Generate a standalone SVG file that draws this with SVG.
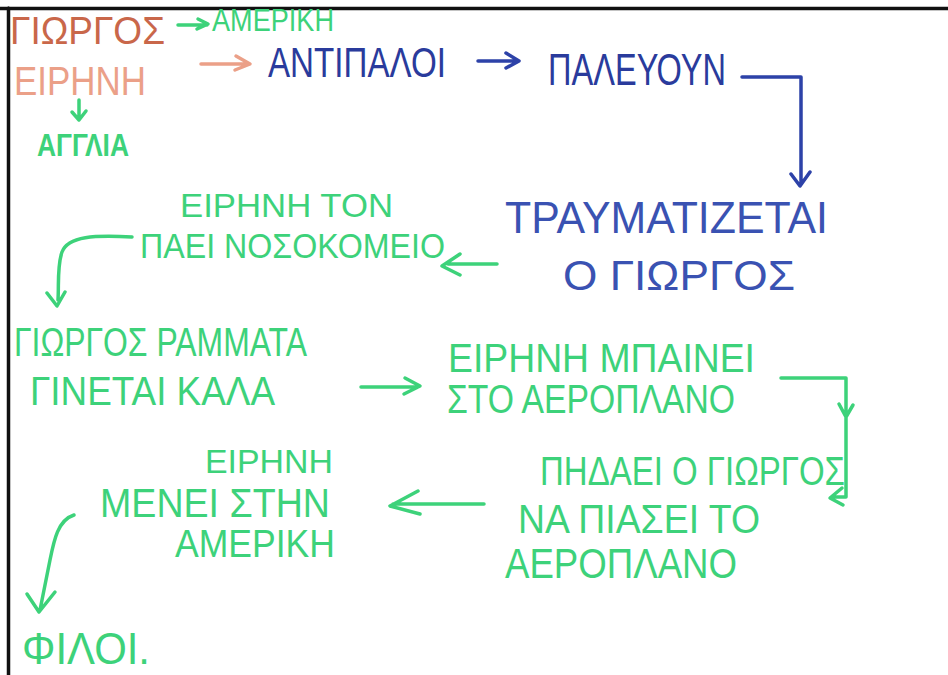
<svg xmlns="http://www.w3.org/2000/svg" width="948" height="675" viewBox="0 0 948 675">
<defs>
<style>
text{font-family:"Liberation Sans","DejaVu Sans",sans-serif;font-weight:normal;}
text.bold{font-weight:bold;}
.g{fill:#3dd27a;}
.b{fill:#2a3b9c;}
.b2{fill:#3a52b2;}
.o{fill:#c9674a;}
.s{fill:#eba088;}
.cg{stroke:#3dd27a;}
.cb{stroke:#2d42a8;}
.cs{stroke:#eba088;}
path{fill:none;stroke-width:3.5;stroke-linecap:round;stroke-linejoin:round;}
</style>
</defs>
<rect width="948" height="675" fill="#ffffff"/>
<path d="M0 8.5H948M8.5 8V675" stroke="#111" stroke-width="2.5" fill="none"/>

<g id="n-giorgos"><text class="o" x="10" y="44" font-size="38" textLength="155" lengthAdjust="spacingAndGlyphs">ΓΙΩΡΓΟΣ</text></g>
<g id="n-ameriki"><text class="g" x="212" y="31" font-size="32" textLength="122" lengthAdjust="spacingAndGlyphs">ΑΜΕΡΙΚΗ</text></g>
<g id="n-eirini"><text class="s" x="14" y="95" font-size="40" textLength="132" lengthAdjust="spacingAndGlyphs">ΕΙΡΗΝΗ</text></g>
<g id="n-anglia"><text class="g bold" x="37" y="156" font-size="32" textLength="92" lengthAdjust="spacingAndGlyphs">ΑΓΓΛΙΑ</text></g>
<g id="n-antipaloi"><text class="b" x="268" y="77" font-size="42" textLength="178" lengthAdjust="spacingAndGlyphs">ΑΝΤΙΠΑΛΟΙ</text></g>
<g id="n-palevoun"><text class="b" x="548" y="85" font-size="44" textLength="178" lengthAdjust="spacingAndGlyphs">ΠΑΛΕΥΟΥΝ</text></g>
<g id="n-travmatizetai"><text class="b2" x="505" y="233" font-size="44" textLength="323" lengthAdjust="spacingAndGlyphs">ΤΡΑΥΜΑΤΙΖΕΤΑΙ</text><text class="b2" x="563" y="290" font-size="42" textLength="232" lengthAdjust="spacingAndGlyphs">Ο   ΓΙΩΡΓΟΣ</text></g>
<g id="n-nosokomeio"><text class="g" x="180" y="217" font-size="34" textLength="213" lengthAdjust="spacingAndGlyphs">ΕΙΡΗΝΗ  ΤΟΝ</text><text class="g" x="140" y="258" font-size="35" textLength="305" lengthAdjust="spacingAndGlyphs">ΠΑΕΙ  ΝΟΣΟΚΟΜΕΙΟ</text></g>
<g id="n-rammata"><text class="g" x="14" y="356" font-size="40" textLength="293" lengthAdjust="spacingAndGlyphs">ΓΙΩΡΓΟΣ ΡΑΜΜΑΤΑ</text><text class="g" x="30" y="405" font-size="40" textLength="245" lengthAdjust="spacingAndGlyphs">ΓΙΝΕΤΑΙ   ΚΑΛΑ</text></g>
<g id="n-mpainei"><text class="g" x="448" y="372" font-size="40" textLength="307" lengthAdjust="spacingAndGlyphs">ΕΙΡΗΝΗ  ΜΠΑΙΝΕΙ</text><text class="g" x="447" y="413" font-size="40" textLength="288" lengthAdjust="spacingAndGlyphs">ΣΤΟ  ΑΕΡΟΠΛΑΝΟ</text></g>
<g id="n-pidaei"><text class="g" x="540" y="485" font-size="40" textLength="305" lengthAdjust="spacingAndGlyphs">ΠΗΔΑΕΙ  Ο  ΓΙΩΡΓΟΣ</text><text class="g" x="518" y="533" font-size="41" textLength="242" lengthAdjust="spacingAndGlyphs">ΝΑ  ΠΙΑΣΕΙ  ΤΟ</text><text class="g" x="505" y="578" font-size="42" textLength="232" lengthAdjust="spacingAndGlyphs">ΑΕΡΟΠΛΑΝΟ</text></g>
<g id="n-menei"><text class="g" x="205" y="473" font-size="34" textLength="128" lengthAdjust="spacingAndGlyphs">ΕΙΡΗΝΗ</text><text class="g" x="100" y="517" font-size="40" textLength="230" lengthAdjust="spacingAndGlyphs">ΜΕΝΕΙ  ΣΤΗΝ</text><text class="g" x="175" y="557" font-size="38" textLength="160" lengthAdjust="spacingAndGlyphs">ΑΜΕΡΙΚΗ</text></g>
<g id="n-filoi"><text class="g" x="22" y="664" font-size="44" textLength="128" lengthAdjust="spacingAndGlyphs">ΦΙΛΟΙ.</text></g>

<g id="connectors">
<path class="cg" d="M178 25H207M198 19L208 24L197 29"/>
<path class="cs" d="M201 64H248M236 56L250 64L235 70"/>
<path class="cg" d="M79 100V119M72 112L79 120L86 111"/>
<path class="cb" d="M478 61H518M506 53L519 61L506 68"/>
<path class="cb" d="M742 77H801V183M791 174L800 186L810 172"/>
<path class="cg" d="M497 264H448M460 254L442 266L460 275"/>
<path class="cg" d="M132 237C95 235 68 236 62 252C57 266 59 285 58 300M47 293L57 306L65 292"/>
<path class="cg" d="M361 387H418M405 378L420 386L404 394"/>
<path class="cg" d="M781 378H846V497M839 404L846 417L853 405M846 497H834M842 488L830 498L843 505"/>
<path class="cg" d="M484 504H393M418 491L390 506L420 514"/>
<path class="cg" d="M74 515C58 520 54 540 50 560C46 580 43 595 40 610M27 594L39 612L55 592"/>
</g>
</svg>
